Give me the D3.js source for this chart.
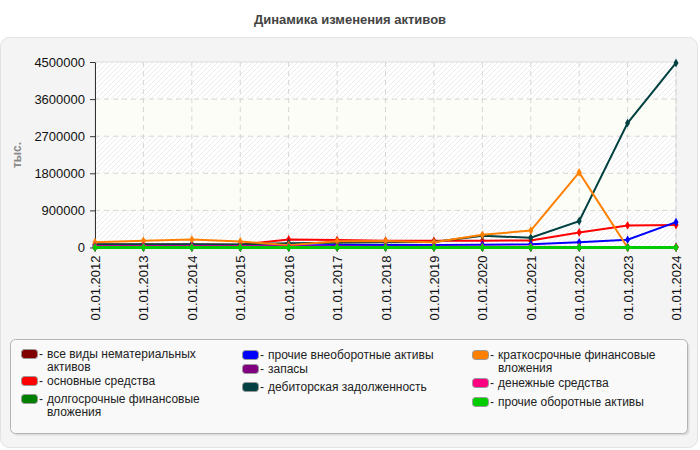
<!DOCTYPE html>
<html>
<head>
<meta charset="utf-8">
<script src="https://cdn.jsdelivr.net/npm/d3@7"></script>
<style>
  body { margin: 0; background: #fff; }
  svg { display: block; font-family: "Liberation Sans", Arial, sans-serif; }
</style>
</head>
<body>
<svg id="chart" width="700" height="450"></svg>
<script>
// x categories
var dates = ["01.01.2012", "01.01.2013", "01.01.2014", "01.01.2015", "01.01.2016", "01.01.2017",
    "01.01.2018", "01.01.2019", "01.01.2020", "01.01.2021", "01.01.2022", "01.01.2023", "01.01.2024"];

var yTicks = [0, 900000, 1800000, 2700000, 3600000, 4500000];

// values, thousands
var intangible = [5000, 5000, 5000, 5000, 5000, 5000, 5000, 5000, 5000, 5000, 5000, 5000, 5000];
var fixedAssets = [70000, 70000, 72000, 65000, 195000, 180000, 165000, 162000, 165000, 170000, 365000, 534000, 545000];
var longTermInv = [10000, 10000, 10000, 10000, 10000, 10000, 10000, 10000, 10000, 10000, 10000, 10000, 10000];
var otherNonCurrent = [45000, 45000, 45000, 45000, 50000, 60000, 60000, 60000, 65000, 80000, 125000, 188000, 615000];
var inventories = [2000, 2000, 2000, 2000, 2000, 2000, 2000, 2000, 2000, 2000, 2000, 2000, 2000];
var receivables = [81000, 81000, 81000, 75000, 105000, 115000, 130000, 131000, 283000, 238000, 640000, 3020000, 4476000];
var shortTermInv = [130000, 162000, 194000, 146000, 55000, 150000, 160000, 125000, 308000, 410000, 1821000, 0, 5000];
var cash = [32000, 32000, 32000, 30000, 25000, 25000, 20000, 20000, 20000, 20000, 15000, 15000, 15000];
var otherCurrent = [2000, 2000, 2000, 2000, 2000, 2000, 2000, 2000, 2000, 2000, 2000, 2000, 2000];

var seriesNames = ["все виды нематериальных активов", "основные средства", "долгосрочные финансовые вложения",
    "прочие внеоборотные активы", "запасы", "дебиторская задолженность",
    "краткосрочные финансовые вложения", "денежные средства", "прочие оборотные активы"];
var seriesColors = ["#800000", "#ff0000", "#008000", "#0000ff", "#800080", "#004040", "#ff8000", "#ff0080", "#00cc00"];
var seriesValues = [intangible, fixedAssets, longTermInv, otherNonCurrent, inventories, receivables, shortTermInv, cash, otherCurrent];

var svg = d3.select("#chart");

// outer panel + title
svg.append("rect")
    .attr("x", 0.5).attr("y", 37.5).attr("width", 697).attr("height", 410)
    .attr("rx", 9).attr("fill", "#f4f4f4").attr("stroke", "#e2e2e2");
svg.append("text")
    .attr("x", 350).attr("y", 24)
    .attr("text-anchor", "middle")
    .style("font-size", "13px").style("font-weight", "bold").style("fill", "#444")
    .text("Динамика изменения активов");

// plot box (note: "top" is taken by window.top)
var plotLeft = 95, plotRight = 676, plotTop = 62, plotBottom = 247.5;

var x = d3.scalePoint().domain(dates).range([plotLeft, plotRight]);
var y = d3.scaleLinear().domain([0, 4500000]).range([plotBottom, plotTop]);

// hatch pattern for the plot background
var defs = svg.append("defs");
var pat = defs.append("pattern")
    .attr("id", "hatch").attr("patternUnits", "userSpaceOnUse")
    .attr("width", 5).attr("height", 5);
pat.append("rect").attr("width", 5).attr("height", 5).attr("fill", "#ffffff");
pat.append("path")
    .attr("d", "M-1,1 l2,-2 M0,5 l5,-5 M4,6 l2,-2")
    .attr("stroke", "#ececec").attr("stroke-width", 1);

// alternating bands
var bands = d3.pairs(yTicks);
svg.append("g").selectAll("rect")
    .data(bands)
    .enter()
    .append("rect")
    .attr("x", plotLeft)
    .attr("y", function (d) { return y(d[1]); })
    .attr("width", plotRight - plotLeft)
    .attr("height", function (d) { return y(d[0]) - y(d[1]); })
    .attr("fill", function (d, i) { return i % 2 == 0 ? "url(#hatch)" : "#fdfdf7"; });

svg.append("rect")
    .attr("x", plotLeft).attr("y", plotTop).attr("width", plotRight - plotLeft).attr("height", plotBottom - plotTop)
    .attr("fill", "none").attr("stroke", "#dedede");

// grid
var grid = svg.append("g").attr("stroke", "#d6d6d6").attr("stroke-dasharray", "5,4");
grid.selectAll(".vx")
    .data(dates.slice(1))
    .enter()
    .append("line")
    .attr("x1", function (d) { return x(d); }).attr("x2", function (d) { return x(d); })
    .attr("y1", plotTop).attr("y2", plotBottom);
grid.selectAll(".hy")
    .data(yTicks.slice(1, -1))
    .enter()
    .append("line")
    .attr("x1", plotLeft).attr("x2", plotRight)
    .attr("y1", function (d) { return y(d); }).attr("y2", function (d) { return y(d); });

// axes
var yAxis = svg.append("g")
    .attr("transform", "translate(" + plotLeft + ",0)")
    .call(d3.axisLeft(y).tickValues(yTicks).tickFormat(d3.format("d")).tickSize(5).tickSizeOuter(0));
yAxis.select(".domain").attr("stroke", "#333");
yAxis.selectAll(".tick line").attr("stroke", "#333");
yAxis.selectAll("text").style("font-size", "13px").style("fill", "#111").attr("x", -10);

var xAxis = svg.append("g")
    .attr("transform", "translate(0," + plotBottom + ")")
    .call(d3.axisBottom(x).tickSize(4).tickSizeOuter(0));
xAxis.select(".domain").attr("stroke", "#888");
xAxis.selectAll(".tick line").attr("stroke", "#777");
xAxis.selectAll("text")
    .style("font-size", "13px").style("fill", "#111")
    .attr("text-anchor", "end")
    .attr("transform", "rotate(-90)")
    .attr("x", -8).attr("y", 0).attr("dy", "0.35em");

svg.append("text")
    .attr("transform", "translate(21,155) rotate(-90)")
    .attr("text-anchor", "middle")
    .style("font-size", "12px").style("font-weight", "bold").style("fill", "#888")
    .text("тыс.");

// lines
var line = d3.line()
    .x(function (d, i) { return x(dates[i]); })
    .y(function (d) { return y(d); });

var diamond = d3.symbol().type(d3.symbolDiamond).size(22);

seriesValues.forEach(function (vals, k) {
    var w = k == 8 ? 3 : 2;
    svg.append("path")
        .datum(vals)
        .attr("d", line)
        .attr("fill", "none")
        .attr("stroke", seriesColors[k])
        .attr("stroke-width", w);
    svg.append("g").selectAll("path")
        .data(vals)
        .enter()
        .append("path")
        .attr("d", diamond)
        .attr("transform", function (d, i) { return "translate(" + x(dates[i]) + "," + y(d) + ")"; })
        .attr("fill", seriesColors[k]);
});

// legend
svg.append("rect")
    .attr("x", 12.5).attr("y", 341.5).attr("width", 677).attr("height", 94)
    .attr("rx", 5).attr("fill", "#dcdcdc");
svg.append("rect")
    .attr("x", 10.5).attr("y", 339.5).attr("width", 677).attr("height", 94)
    .attr("rx", 5).attr("fill", "#f9f9f9").attr("stroke", "#b4b4b4");

// column x and baseline y for each legend item (layout only)
var legendPos = [[21, 358], [21, 385], [21, 403], [242, 359], [242, 373], [242, 391], [472, 359], [472, 387], [472, 406]];
var legendWrap = {0: ["все виды нематериальных", "активов"], 2: ["долгосрочные финансовые", "вложения"], 6: ["краткосрочные финансовые", "вложения"]};

var lg = svg.append("g").style("font-size", "12px").style("fill", "#222");
seriesNames.forEach(function (name, k) {
    var px = legendPos[k][0], py = legendPos[k][1];
    lg.append("rect")
        .attr("x", px + 0.5).attr("y", py - 8.5).attr("width", 16).attr("height", 9)
        .attr("rx", 3).attr("fill", seriesColors[k]).attr("stroke", "#999");
    lg.append("text").attr("x", px + 18).attr("y", py).text("-");
    var lines = legendWrap[k] || [name];
    lines.forEach(function (t, j) {
        lg.append("text").attr("x", px + 26).attr("y", py + j * 12.5).text(t);
    });
});
</script>
</body>
</html>
